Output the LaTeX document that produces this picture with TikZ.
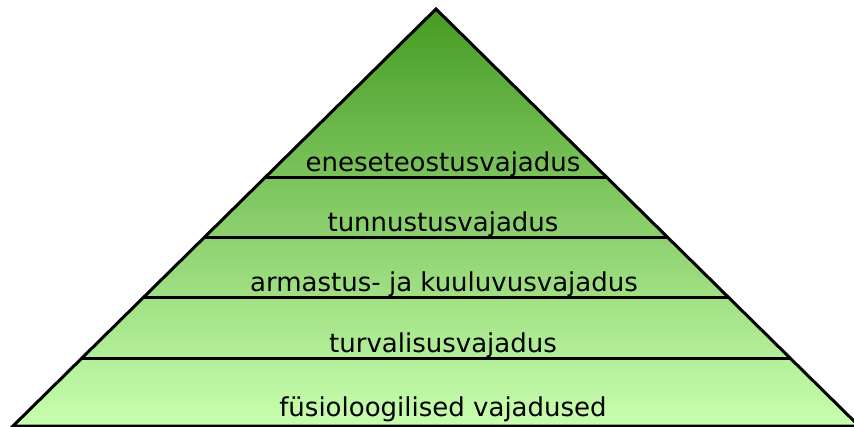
\documentclass[tikz,border=0pt]{standalone}
\usepackage{fontspec}
\setmainfont{DejaVu Sans}
\usetikzlibrary{calc}
\definecolor{topgreen}{RGB}{70,155,35}
\definecolor{basegreen}{RGB}{200,255,175}

\begin{document}
\begin{tikzpicture}[
    x=1pt, y=-1pt,
    rim/.style={draw=black, line width=3pt, line join=miter},
    tiername/.style={font=\fontsize{26}{31}\selectfont, anchor=base, inner sep=0pt},
]
    \useasboundingbox (0,0) rectangle (854,427);
    % Corners
    \coordinate (apex) at (436,9);
    \coordinate (bl) at (13,426);
    \coordinate (br) at (859,426);
    % Body
    \shade[top color=topgreen, bottom color=basegreen] (apex) -- (bl) -- (br) -- cycle;
    % Tier lines
    \foreach \y in {178,238,298,359}
        \draw[rim] ($(apex)!{(\y-9)/417}!(bl)$) -- ($(apex)!{(\y-9)/417}!(br)$);
    \draw[rim] (apex) -- (bl) -- (br) -- cycle;

    % Tiers
    \node[tiername] (self) at (443,172) {eneseteostusvajadus};
    \node[tiername] (esteem) at (443,232) {tunnustusvajadus};
    \node[tiername] (love) at (444,292) {armastus- ja kuuluvusvajadus};
    \node[tiername] (safety) at (443,353) {turvalisusvajadus};
    \node[tiername] (body) at (443,417) {füsioloogilised vajadused};
\end{tikzpicture}
\end{document}
